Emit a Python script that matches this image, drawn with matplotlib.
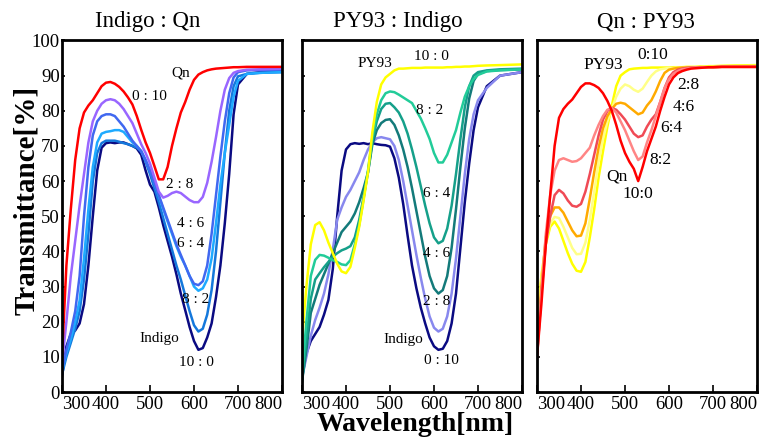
import matplotlib
matplotlib.use('Agg')
import matplotlib.pyplot as plt

plt.rcParams['font.family'] = ['Liberation Serif', 'DejaVu Serif']

# wavelength grid [nm]
wl = [300, 310, 320, 330, 340, 350, 360, 370, 380, 390,
      400, 410, 420, 430, 440, 450, 460, 470, 480, 490,
      500, 510, 520, 530, 540, 550, 560, 570, 580, 590,
      600, 610, 620, 630, 640, 650, 660, 670, 680, 690,
      700, 720, 750, 800]

# --- Indigo : Qn ---
iq_qn = [10, 36, 52, 66, 75, 79.5, 81.5, 83, 85, 87,
         88, 88.2, 87.7, 86.8, 85.5, 83.8, 81.8, 78.5, 74.6, 71,
         68, 64.3, 60.5, 60.5, 64, 70, 75, 79.5, 82.5, 86,
         88.8, 90.3, 91, 91.5, 91.8, 92, 92.1, 92.2, 92.3, 92.4,
         92.4, 92.5, 92.5, 92.5]
iq_28 = [8, 20, 33, 43, 53, 62, 71, 77, 80, 82,
         83, 83.3, 83, 82, 80.5, 78.5, 76.5, 73.5, 70.5, 68,
         65, 61, 57, 55.3, 55.8, 56.6, 57, 56.6, 55.6, 54.6,
         54, 54, 55.5, 59.5, 65.5, 72.5, 80, 86, 89.3, 90.8,
         91.3, 91.7, 91.8, 92]
iq_46 = [6, 12, 17, 23, 33, 50, 64, 73, 77, 78.5,
         79, 79, 78.5, 77, 75.5, 73.5, 71.5, 70, 68.5, 66,
         63, 59.5, 56, 52.5, 49, 45.5, 42, 39, 36, 33,
         30.8, 30.4, 31.5, 36, 45, 56, 67, 77, 85, 89.5,
         91, 91.5, 91.6, 91.7]
iq_64 = [6, 11, 15, 20, 26, 38, 52, 64, 71, 73.5,
         74, 74.2, 74.5, 74.5, 74, 72.5, 71, 70, 68.5, 66,
         63, 59.5, 55.8, 52, 48.5, 45, 41.5, 38.5, 36, 33,
         30, 28.8, 29.5, 32, 38, 48, 59, 68, 76, 84,
         88.5, 90.5, 90.8, 91]
iq_82 = [5, 10, 14, 18, 23, 32, 45, 60, 68, 70.8,
         71.5, 71.5, 71.5, 71.2, 70.8, 70.5, 70, 69.5, 68.5, 65.5,
         62, 58, 54, 49.5, 45, 40.5, 36, 32, 27.5, 23,
         19, 17.2, 18, 22, 29, 40, 54, 68, 80, 87,
         89.8, 90.5, 90.8, 91]
iq_ind = [4.4, 13, 16.5, 17.5, 19.5, 25, 36, 50, 63, 69.5,
          70.8, 71, 70.8, 71, 71, 70.5, 70, 69.3, 67.5, 63,
          59, 57, 52.5, 47.5, 43, 38.5, 33.5, 28, 23.3, 18.5,
          14.5, 12, 12.5, 15.5, 19.5, 27, 36, 48, 62, 79,
          87.5, 90.5, 91, 91.2]

# --- PY93 : Indigo ---
pi_py = [15, 30, 42, 47.5, 48.3, 46, 42.5, 39.5, 36.5, 34.3,
         33.8, 35.6, 41, 47, 54.5, 62.5, 74, 82.5, 87.5, 89.5,
         90.5, 91.5, 92, 92, 92.1, 92.2, 92.2, 92.2, 92.3, 92.3,
         92.3, 92.3, 92.3, 92.4, 92.4, 92.5, 92.5, 92.6, 92.6, 92.7,
         92.8, 92.9, 93, 93.2]
pi_82 = [5, 20, 33, 37.6, 39, 38.8, 38.2, 37.5, 37, 36.3,
         36.1, 37.5, 42, 47.5, 55, 63, 72.5, 79, 83, 85,
         85.5, 85.3, 84.6, 83.8, 83, 82.2, 80, 77.8, 75, 72,
         68, 65.3, 65.3, 67.5, 71, 74.5, 79.5, 84, 87, 89,
         90.2, 91.2, 91.5, 91.8]
pi_64 = [3, 15, 26.5, 32, 33.8, 35.5, 37, 38.5, 39.5, 40.3,
         40.8, 41.5, 44, 49, 55.5, 62.5, 71.5, 77, 80.5, 82,
         82.2, 81, 79.5, 77, 73.5, 69, 64, 58.5, 53, 48,
         44, 42.3, 43, 46.5, 53, 62, 72, 81, 87, 90,
         91, 91.5, 91.8, 92]
pi_46 = [3, 12, 22.5, 26.5, 30.5, 33.5, 36.5, 39.5, 42.5, 45.5,
         47, 48.5, 50.8, 54, 58, 62.5, 70.5, 74.5, 76.5, 77.4,
         77.6, 76, 73, 69, 64, 58, 51.5, 45, 38.5, 33,
         29.5, 28, 29, 33, 41, 52, 64, 75, 83.5, 88.5,
         90.5, 91.3, 91.6, 91.8]
pi_28 = [4, 10, 16, 20.5, 24, 28, 33.5, 40.5, 49, 52.5,
         55.5, 57.5, 60, 62.5, 66, 69, 71, 72.2, 72.5, 72.2,
         71.9, 70, 66, 60, 53, 46, 39, 32.5, 26.5, 21.5,
         18.3, 17.2, 18, 21.5, 28, 38, 50, 62, 72, 79,
         83, 86.5, 90, 91]
pi_ind = [4.4, 11, 14.5, 16.5, 18.5, 22, 26.2, 35, 50, 63,
          69, 70.5, 70.8, 70.6, 70.8, 70.5, 70.8, 70.5, 70.3, 70.2,
          69.8, 66.5, 61, 53.5, 44.5, 36, 29.5, 24, 19.5, 15.5,
          13, 12, 12.3, 14.5, 19.5, 28, 41, 54, 65, 74.5,
          81, 87, 90, 91]

# --- Qn : PY93 ---
qp_qn = [10, 25, 42, 56, 70, 78, 80.5, 82, 83.2, 85,
         86.8, 87.8, 87.8, 87.3, 86.5, 85, 82.8, 80, 76, 71.5,
         68, 65.5, 63.5, 60, 64, 68.5, 72, 75.5, 80, 84,
         87.5, 89.5, 90.7, 91.3, 91.7, 92, 92.1, 92.2, 92.3, 92.4,
         92.4, 92.5, 92.5, 92.5]
qp_82 = [10, 28, 45, 56, 63, 66, 66.5, 66, 65.5, 65.7,
         66.5, 68, 69.5, 73, 76, 78.5, 80.3, 80.8, 79.5, 77,
         74.5, 71.5, 68.5, 66, 67, 71, 74.5, 78.5, 82.5, 86.5,
         89, 90.5, 91.3, 91.8, 92, 92.2, 92.3, 92.3, 92.4, 92.4,
         92.4, 92.5, 92.5, 92.5]
qp_64 = [10, 28, 42, 50, 56, 57.5, 56.5, 54.5, 53, 52.7,
         53.5, 57, 62, 67.5, 73, 77.5, 80, 80.8, 80.3, 79,
         77.5, 75.5, 73.5, 72.5, 73, 75.5, 77.5, 79, 82.5, 86.5,
         89.5, 91, 91.7, 92, 92.2, 92.3, 92.3, 92.4, 92.4, 92.4,
         92.4, 92.5, 92.5, 92.5]
qp_46 = [12, 30, 44, 50, 52.5, 52.5, 51, 48.5, 46, 44.3,
         44.5, 48, 55, 62.5, 69.5, 75, 78.5, 80.5, 82, 82.3,
         82, 81, 80, 79, 79.5, 81.5, 83, 85.5, 88.5, 90.8,
         91.7, 92, 92.2, 92.3, 92.3, 92.3, 92.4, 92.4, 92.4, 92.4,
         92.4, 92.5, 92.5, 92.5]
qp_28 = [15, 32, 43, 48, 49.8, 49.5, 47, 44, 41, 39.2,
         39.3, 42.5, 49, 57, 65.5, 72, 77, 80.5, 84, 86.3,
         87.5, 87, 86, 85.4, 86.3, 88.2, 90, 91.2, 91.8, 92,
         92.2, 92.2, 92.3, 92.3, 92.3, 92.3, 92.4, 92.4, 92.5, 92.5,
         92.5, 92.6, 92.7, 92.8]
qp_py = [20, 33, 42, 47, 48.5, 46.5, 43, 39.5, 36.5, 34.5,
         34.2, 37, 44, 52, 61, 68.5, 75.5, 81.5, 87, 90,
         91, 91.8, 92, 92.1, 92.2, 92.2, 92.3, 92.3, 92.3, 92.3,
         92.3, 92.4, 92.4, 92.4, 92.5, 92.5, 92.5, 92.6, 92.6, 92.7,
         92.7, 92.8, 92.9, 93]

titles = ['Indigo : Qn', 'PY93 : Indigo', 'Qn : PY93']

panels = [
    [(iq_ind, '#0a0a82'), (iq_82, '#1478dc'), (iq_64, '#1eaaff'),
     (iq_46, '#4068f0'), (iq_28, '#9966ff'), (iq_qn, '#ff0000')],
    [(pi_ind, '#0a0a82'), (pi_28, '#8888ee'), (pi_46, '#137a7a'),
     (pi_64, '#15a08a'), (pi_82, '#22cc99'), (pi_py, '#ffff00')],
    [(qp_py, '#ffff00'), (qp_28, '#ffff88'), (qp_46, '#ffaa00'),
     (qp_64, '#f04a55'), (qp_82, '#ff8585'), (qp_qn, '#ff0000')],
]

# curve labels: (text, wavelength, T)
labels = [
    [('Qn', 571, 90.7), ('0 : 10', 499, 84), ('2 : 8', 567, 58.9),
     ('4 : 6', 593, 48), ('6 : 4', 593, 42.3), ('8 : 2', 603, 26.2),
     ('Indigo', 522, 15.3), ('10 : 0', 605, 8.4)],
    [('PY93', 466, 93.5), ('10 : 0', 595, 95.4), ('8 : 2', 591, 80.2),
     ('6 : 4', 606, 56.5), ('4 : 6', 606, 39.5), ('2 : 8', 606, 25.7),
     ('Indigo', 530, 14.8), ('0 : 10', 617, 9.1)],
    [('PY93', 451, 93), ('0:10', 564, 95.9), ('2:8', 644, 87.3),
     ('4:6', 633, 81.2), ('6:4', 606, 75), ('8:2', 580, 66),
     ('Qn', 481, 61.3), ('10:0', 530, 56.3)],
]
lab_size = [11, 11, 12.5]
title_x = [148, 398, 646]

fig = plt.figure(figsize=(7.6, 4.4), dpi=100)
lefts = [62, 302, 537]
xt = [300, 400, 500, 600, 700, 800]

for i in range(3):
    ax = fig.add_axes([lefts[i] / 760, 48 / 440, 220 / 760, 351.5 / 440])
    for ys, c in panels[i]:
        ax.plot(wl, ys, color=c, lw=1.8)
    for s, x, y in labels[i]:
        ax.text(x, y, s, ha='center', va='center', fontsize=lab_size[i])
    ax.set_xlim(300, 800)
    ax.set_ylim(0, 100)
    ax.set_xticks(xt)
    tl = ax.set_xticklabels([str(v) for v in xt])
    tl[0].set_ha('left')
    tl[-1].set_ha('right')
    ax.set_yticks(range(0, 101, 10))
    ax.tick_params(axis='x', direction='in', length=5, width=1.2,
                   labelsize=13.5, pad=3)
    ax.tick_params(axis='y', direction='in', length=2.5, width=1.2,
                   labelsize=13.5, pad=1.5, labelleft=(i == 0))
    for sp in ax.spines.values():
        sp.set_linewidth(2)
    fig.text(title_x[i] / 760, 1 - 22 / 440, titles[i], ha='center',
             va='center', fontsize=16.5)

fig.text(27 / 760, 1 - 200 / 440, 'Transmittance[%]', rotation=90,
         ha='center', va='center', fontsize=21, fontweight='bold')
fig.text(415 / 760, 1 - 424 / 440, 'Wavelength[nm]', ha='center',
         va='center', fontsize=20, fontweight='bold')

fig.savefig('out.png', dpi=100)
